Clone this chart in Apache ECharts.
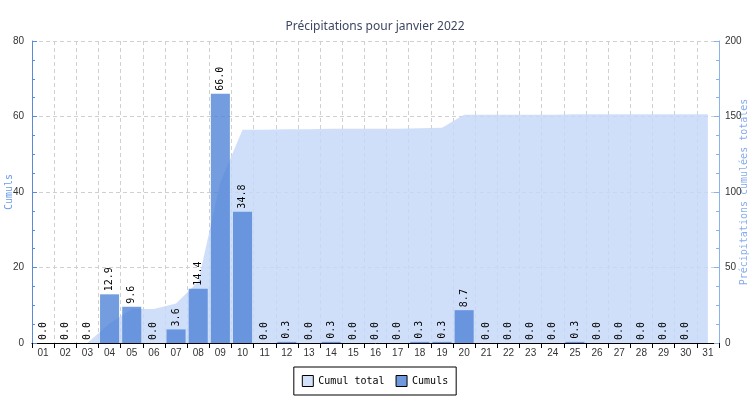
<!DOCTYPE html>
<html>
<head>
<meta charset="utf-8">
<script src="https://cdn.jsdelivr.net/npm/echarts@6/dist/echarts.min.js"></script>
<style>html,body{margin:0;padding:0;background:#fff}#c{width:750px;height:400px}</style>
</head>
<body>
<div id="c"></div>
<script>
var days = ['01','02','03','04','05','06','07','08','09','10','11','12','13','14','15','16','17','18','19','20','21','22','23','24','25','26','27','28','29','30','31'];
var daily = [0.0,0.0,0.0,12.9,9.6,0.0,3.6,14.4,66.0,34.8,0.0,0.3,0.0,0.3,0.0,0.0,0.0,0.3,0.3,8.7,0.0,0.0,0.0,0.0,0.3,0.0,0.0,0.0,0.0,0.0,null];
var cumulTotal = [0,0,0,12.9,22.5,22.5,26.1,40.5,106.5,141.3,141.3,141.6,141.6,141.9,141.9,141.9,141.9,142.2,142.5,151.2,151.2,151.2,151.2,151.2,151.5,151.5,151.5,151.5,151.5,151.5,151.5];
var leftTicks = {min: 0, max: 80, interval: 20};
var rightTicks = {min: 0, max: 200, interval: 50};

var mono = 'DejaVu Sans Mono';
var chart = echarts.init(document.getElementById('c'));
var areaColor = 'rgba(198,216,248,0.82)';
var barColor = 'rgba(72,126,214,0.76)';
chart.setOption({
  animation: false,
  title: {
    text: 'Précipitations pour janvier 2022',
    left: 'center', top: 16,
    textStyle: {fontFamily: 'Noto Sans', fontSize: 12, fontWeight: 'normal', color: '#3d4762'}
  },
  legend: {
    left: 'center',
    top: 367,
    padding: [8, 8],
    itemGap: 11,
    itemWidth: 11, itemHeight: 11,
    borderColor: '#000', borderWidth: 1,
    backgroundColor: '#fff',
    icon: 'rect',
    textStyle: {fontFamily: mono, fontSize: 10, color: '#000'},
    data: [
      {name: 'Cumul total', itemStyle: {color: '#d3e0f9', borderColor: '#000', borderWidth: 1}},
      {name: 'Cumuls', itemStyle: {color: '#6f98dd', borderColor: '#000', borderWidth: 1}}
    ]
  },
  grid: {left: 32, right: 31, top: 41, bottom: 57, containLabel: false, outerBoundsMode: 'none'},
  xAxis: {
    type: 'category',
    data: days,
    boundaryGap: true,
    axisLine: {lineStyle: {color: '#000', width: 1}},
    axisTick: {show: true, length: 5, lineStyle: {color: '#000'}, alignWithLabel: false, interval: 0},
    axisLabel: {interval: 0, fontFamily: 'Liberation Sans', fontSize: 10, color: '#333', margin: 5},
    splitLine: {show: true, interval: 0, lineStyle: {color: '#d0d0d0', type: [4, 3]}}
  },
  yAxis: [
    {
      type: 'value', min: leftTicks.min, max: leftTicks.max, interval: leftTicks.interval,
      name: 'Cumuls', nameLocation: 'middle', nameGap: 18, nameRotate: 90, nameMoveOverlap: false,
      nameTextStyle: {fontFamily: mono, fontSize: 10, color: '#6b9be8'},
      axisLine: {show: true, lineStyle: {color: '#5b8bd8'}},
      axisTick: {show: true, inside: true, length: 5, lineStyle: {color: '#5b8bd8'}},
      minorTick: {show: true, splitNumber: 4, length: 3, lineStyle: {color: '#5b8bd8'}},
      axisLabel: {fontFamily: 'Liberation Sans', fontSize: 10, color: '#333', margin: 8},
      splitLine: {show: true, lineStyle: {color: '#d0d0d0', type: [4, 3]}}
    },
    {
      type: 'value', min: rightTicks.min, max: rightTicks.max, interval: rightTicks.interval,
      position: 'right',
      name: 'Précipitations cumulées totales', nameLocation: 'middle', nameGap: 20, nameRotate: 90, nameMoveOverlap: false,
      nameTextStyle: {fontFamily: mono, fontSize: 10, color: '#86acef'},
      axisLine: {show: true, lineStyle: {color: '#8cb1ef'}},
      axisTick: {show: true, inside: true, length: 5, lineStyle: {color: '#8cb1ef'}},
      minorTick: {show: true, splitNumber: 4, length: 3, lineStyle: {color: '#8cb1ef'}},
      axisLabel: {fontFamily: 'Liberation Sans', fontSize: 10, color: '#333', margin: 6},
      splitLine: {show: false}
    }
  ],
  series: [
    {
      name: 'Cumul total', type: 'line', yAxisIndex: 1, data: cumulTotal,
      symbol: 'none', smooth: false,
      itemStyle: {color: '#d3e0f9'},
      lineStyle: {width: 0, color: areaColor},
      areaStyle: {color: areaColor, opacity: 1},
      z: 1
    },
    {
      name: 'Cumuls', type: 'bar', yAxisIndex: 0, data: daily,
      barWidth: '86%',
      itemStyle: {color: barColor},
      label: {
        show: true, position: 'top', rotate: 90, align: 'left', verticalAlign: 'middle',
        distance: 3, fontFamily: mono, fontSize: 10, color: '#000',
        formatter: function (p) { return p.value == null ? '' : Number(p.value).toFixed(1); }
      },
      z: 2
    }
  ]
});
</script>
</body>
</html>
